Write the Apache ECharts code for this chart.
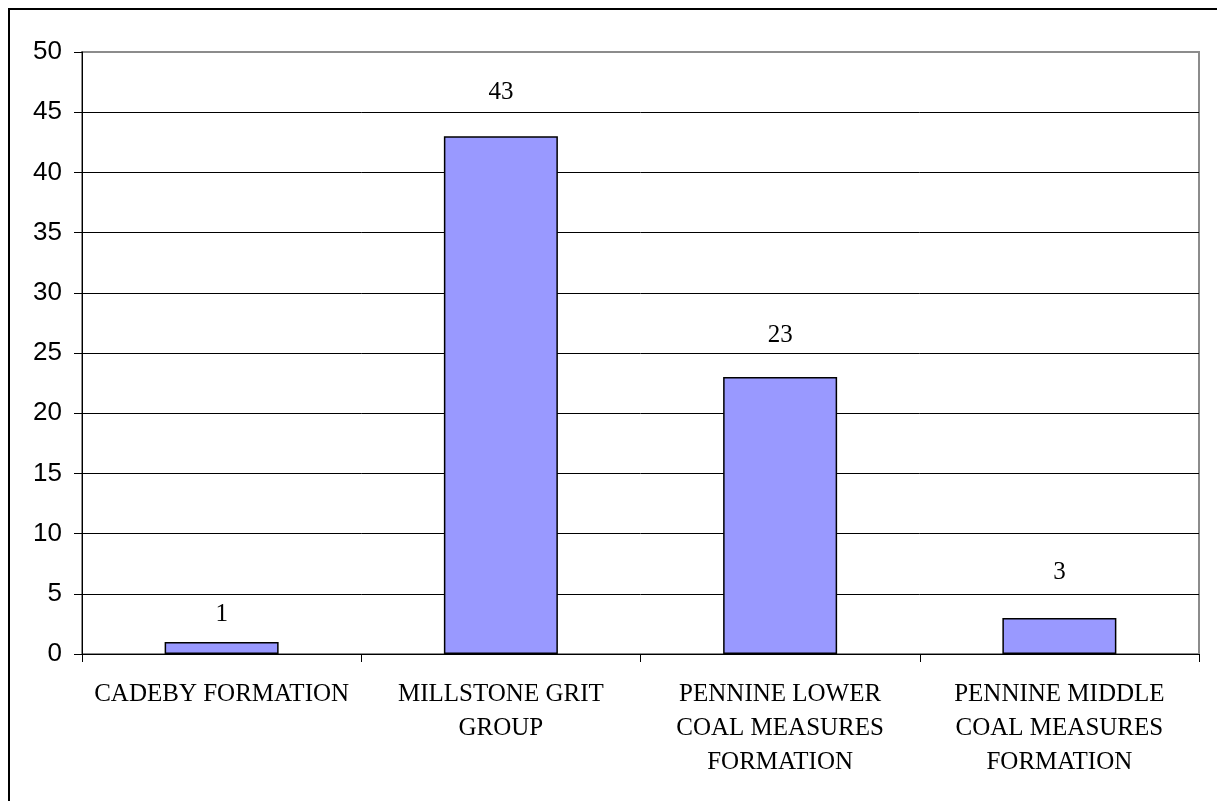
<!DOCTYPE html>
<html lang="en">
<head>
<meta charset="UTF-8">
<title>Formations</title>
<script src="https://cdn.jsdelivr.net/npm/echarts@6/dist/echarts.min.js"></script>
<style type="text/css">
	html, body {
		margin: 0;
		padding: 0;
		background: #fff;
		overflow: hidden;
	}
	.frame {
		position: absolute;
		left: 8px;
		top: 8px;
		width: 1300px;
		height: 900px;
		border: 2px solid #000;
	}
	#chart {
		position: absolute;
		left: 0;
		top: 0;
		width: 1217px;
		height: 801px;
	}
</style>
</head>
<body>
<div class="frame"></div>
<div id="chart"></div>
<script type="text/javascript">
	// data
	var categories = ['CADEBY FORMATION', 'MILLSTONE GRIT\nGROUP', 'PENNINE LOWER\nCOAL MEASURES\nFORMATION', 'PENNINE MIDDLE\nCOAL MEASURES\nFORMATION'];
	var counts = [1, 43, 23, 3];
	var yTicks = [0, 5, 10, 15, 20, 25, 30, 35, 40, 45, 50];

	var chart = echarts.init(document.getElementById('chart'));

	// top gridline blends with the grey plot border
	var gridColors = yTicks.map(function (v, i) {
		return i === yTicks.length - 1 ? '#8c8c8c' : '#000';
	});

	// label gap above each bar, as placed in the original
	var labelGap = [15, 31, 29, 33];
	var barData = counts.map(function (v, i) {
		return { value: v, label: { distance: labelGap[i] } };
	});

	var option = {
		animation: false,
		grid: {
			left: 82,
			right: 18,
			top: 52,
			bottom: 147,
			show: true,
			borderColor: '#8c8c8c',
			borderWidth: 2,
			backgroundColor: 'transparent'
		},
		xAxis: {
			type: 'category',
			data: categories,
			boundaryGap: true,
			axisLine: { lineStyle: { color: '#000', width: 1 } },
			axisTick: { show: true, length: 8, lineStyle: { color: '#000' } },
			axisLabel: {
				interval: 0,
				margin: 23,
				fontFamily: '"Liberation Serif", "Times New Roman", serif',
				fontSize: 25,
				lineHeight: 34,
				color: '#000'
			}
		},
		yAxis: {
			type: 'value',
			min: yTicks[0],
			max: yTicks[yTicks.length - 1],
			interval: 5,
			axisLine: { show: true, lineStyle: { color: '#000', width: 1 } },
			axisTick: { show: true, length: 8, lineStyle: { color: '#000' } },
			axisLabel: {
				margin: 20,
				fontFamily: '"Liberation Sans", Arial, sans-serif',
				fontSize: 26,
				color: '#000'
			},
			splitLine: { show: true, lineStyle: { color: gridColors, width: 1 } }
		},
		series: [{
			type: 'bar',
			data: barData,
			barWidth: 114,
			itemStyle: {
				color: '#9999ff',
				borderColor: '#000',
				borderWidth: 1.5
			},
			label: {
				show: true,
				position: 'top',
				fontFamily: '"Liberation Serif", "Times New Roman", serif',
				fontSize: 25,
				color: '#000'
			}
		}]
	};
	chart.setOption(option);
</script>
</body>
</html>
